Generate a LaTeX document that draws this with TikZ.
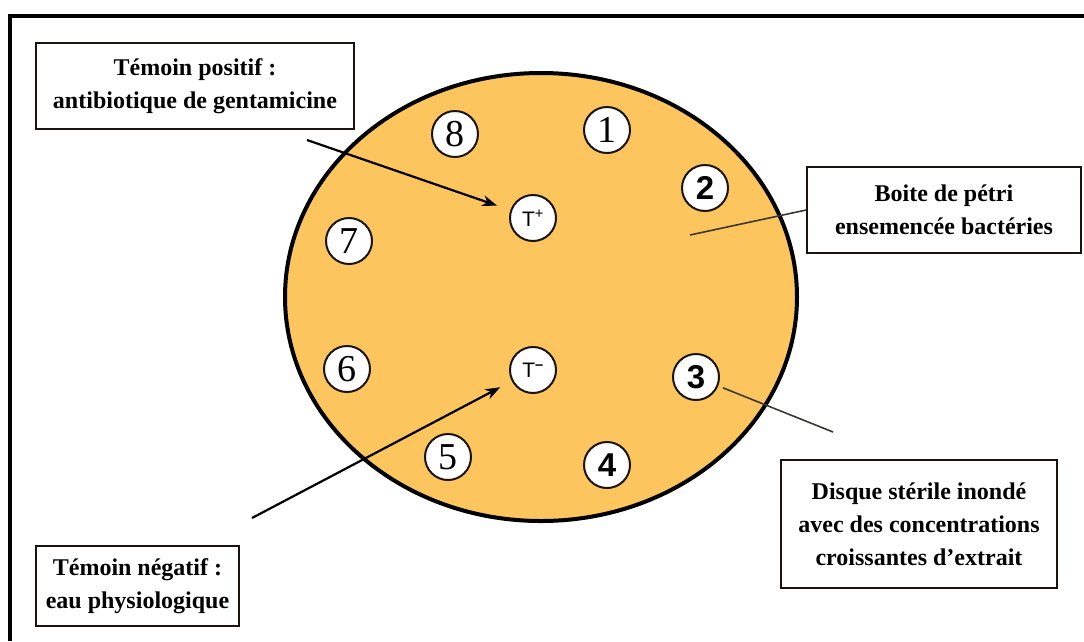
\documentclass[tikz,border=0pt]{standalone}
\usepackage{fontspec}
\setmainfont{Liberation Serif}
\setsansfont{Liberation Sans}
\usetikzlibrary{arrows.meta}

\definecolor{agar}{RGB}{252,197,94}
\definecolor{rim}{RGB}{25,20,15}

\tikzset{
  legend/.style={draw=rim, line width=1.6pt, fill=white, align=center, inner sep=0pt,
    font=\bfseries\fontsize{24}{33}\selectfont},
  disk/.style={circle, draw=rim, line width=2pt, fill=white, inner sep=0pt, minimum size=46pt},
  serifnum/.style={disk, font=\fontsize{38}{38}\selectfont},
  sansnum/.style={disk, font=\sffamily\bfseries\fontsize{33}{33}\selectfont},
  ctrl/.style={disk, font=\sffamily\fontsize{21}{21}\selectfont},
  pointer/.style={line width=2.2pt, -{Stealth[length=15pt,width=11pt]}},
  lead/.style={line width=1.6pt, draw=rim!85}
}

\begin{document}
\begin{tikzpicture}[x=1pt, y=-1pt]
  \useasboundingbox (0,0) rectangle (1084,641);
  \fill[white] (0,0) rectangle (1084,641);
  % frame
  \draw[line width=4pt] (10,641) -- (10,16) -- (1084,16);

  % petri dish
  \draw[line width=4pt, fill=agar] (541,297) ellipse [x radius=256, y radius=224];

  % disks
  \foreach \n/\x/\y in {1/607/130, 5/448/457, 6/347/369, 7/349/241, 8/455/134}
    \node[serifnum] (d\n) at (\x,\y) {\n};
  \foreach \n/\x/\y in {2/705/188, 3/696/377, 4/607/465}
    \node[sansnum] (d\n) at (\x,\y) {\n};
  \node[ctrl] (tpos) at (533,218) {T\textsuperscript{+}};
  \node[ctrl] (tneg) at (533,370) {T\textsuperscript{\textbf{--}}};

  % legends
  \node[legend, minimum width=318pt, minimum height=86pt] (posbox) at (195,86)
    {Témoin positif :\\antibiotique de gentamicine};
  \node[legend, minimum width=274pt, minimum height=86pt] (petribox) at (944,210)
    {Boite de pétri\\ensemencée bactéries};
  \node[legend, minimum width=276pt, minimum height=128pt] (disqbox) at (919,524)
    {Disque stérile inondé\\avec des concentrations\\croissantes d’extrait};
  \node[legend, minimum width=203pt, minimum height=80pt] (negbox) at (137.5,586)
    {Témoin négatif :\\eau physiologique};

  % connectors
  \coordinate (pstart) at (307,140);
  \coordinate (nstart) at (252,518);
  \coordinate (inner) at (690,235);
  \coordinate (outer) at (833,432);
  \draw[pointer, shorten >=14pt] (pstart) -- (tpos);
  \draw[pointer, shorten >=13pt] (nstart) -- (tneg);
  \draw[lead] (petribox.west) -- (inner);
  \draw[lead, shorten <=5pt] (d3) -- (outer);
\end{tikzpicture}
\end{document}
